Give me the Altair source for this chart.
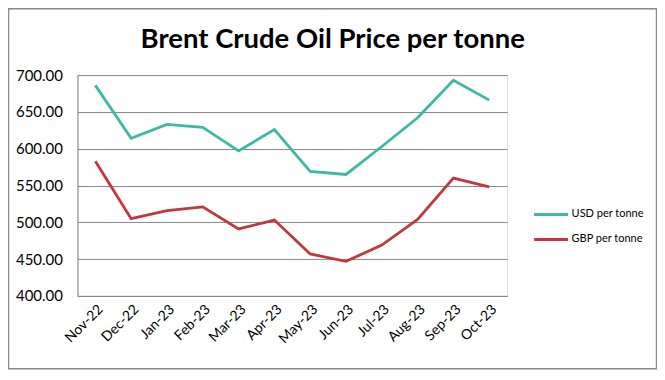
import altair as alt
import pandas as pd

months = ["Nov-22", "Dec-22", "Jan-23", "Feb-23", "Mar-23", "Apr-23",
          "May-23", "Jun-23", "Jul-23", "Aug-23", "Sep-23", "Oct-23"]
usd = [686, 614, 633, 629, 597, 626, 569, 565, 603, 642, 693, 666]
gbp = [583, 505, 516, 521, 491, 503, 457, 447, 469, 504, 560, 548]
series = ["USD per tonne", "GBP per tonne"]
y_ticks = [400, 450, 500, 550, 600, 650, 700]
title_text = ["Brent Crude Oil Price per tonne"]

rows = []
for m, v in zip(months, usd):
    rows.append({"month": m, "series": series[0], "value": v})
for m, v in zip(months, gbp):
    rows.append({"month": m, "series": series[1], "value": v})
df = pd.DataFrame(rows)

FONT = "Lato"

lines = alt.Chart(df).mark_line(strokeWidth=2.8).encode(
    x=alt.X("month:N", sort=months, title=None,
            axis=alt.Axis(labelAngle=-45, labelFontSize=14, labelColor="#000000",
                          labelFont=FONT, ticks=False, domainColor="#888888",
                          domainWidth=1, labelPadding=6, grid=False)),
    y=alt.Y("value:Q", title=None,
            scale=alt.Scale(domain=[400, 700], nice=False, zero=False),
            axis=alt.Axis(values=y_ticks, format=".2f", labelFontSize=15,
                          labelColor="#000000", labelFont=FONT, ticks=False,
                          domainColor="#888888", labelPadding=15,
                          gridColor="#888888", gridWidth=1)),
    color=alt.Color("series:N", sort=series,
                    scale=alt.Scale(domain=series, range=["#3cb9a6", "#c0383e"]),
                    legend=alt.Legend(title=None, orient="none", legendX=455.5,
                                      legendY=121, symbolType="stroke",
                                      symbolSize=1156, symbolStrokeWidth=3,
                                      labelFontSize=11, labelFont=FONT,
                                      labelColor="#000000", rowPadding=-6,
                                      labelOffset=2)),
)

border = alt.Chart(pd.DataFrame({"a": [0]})).mark_rect(
    fill=None, stroke="#888888", strokeWidth=1.5
).encode(x=alt.value(-69), x2=alt.value(579.5), y=alt.value(-66.5), y2=alt.value(294))

title = alt.Chart(pd.DataFrame({"t": title_text})).mark_text(
    font=FONT, fontSize=27.5, fontWeight="bold", color="#000000",
    align="center", baseline="middle"
).encode(text="t:N", x=alt.value(255.5), y=alt.value(-35))

chart = alt.layer(border, lines, title).properties(
    width=430, height=221,
    autosize=alt.AutoSizeParams(type="none"),
    padding={"left": 69.5, "top": 67, "right": 150, "bottom": 76},
).configure_view(stroke=None).configure(background="white")

chart.save("out.html", embed_options={"renderer": "svg", "actions": False})
